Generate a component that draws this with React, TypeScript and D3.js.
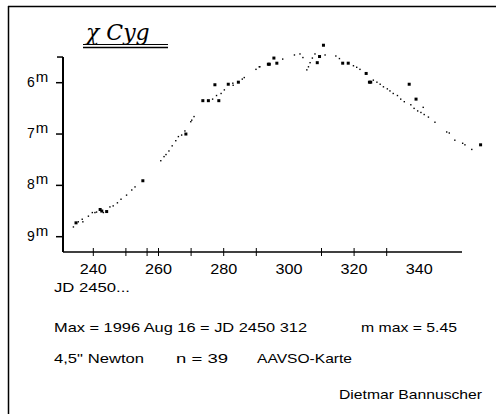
import React from "react";
import * as d3 from "d3";

// chi Cyg light curve, JD 2450xxx vs visual magnitude
const curveDays = [233.9, 235.4, 236.6, 236.8, 238.5, 239.7, 240.5, 241.0, 243.1, 245.1, 246.1, 247.4, 248.5, 250.2, 251.8, 252.8,
  260.7, 261.7, 262.3, 263.2, 264.2, 265.3, 266.1, 267.1, 268.1, 269.9, 270.2, 270.9, 276.6, 277.8, 279.2, 280.2, 282.8, 282.9, 285.7, 286.3, 289.9, 290.9,
  291.1, 298.1, 301.7, 303.4, 304.3, 305.5, 306.0, 306.5, 307.2, 308.0, 311.1, 314.4, 315.5, 319.8, 320.8, 321.8,
  325.9, 327.0, 328.0, 329.0, 330.2, 331.0, 332.0, 333.3, 334.3, 335.4, 337.4, 338.4, 339.5, 340.5, 341.2, 341.5, 342.8, 344.8, 348.4, 349.2, 350.9, 353.3, 354.0, 356.1];
const curveMags = [8.81, 8.71, 8.66, 8.71, 8.60, 8.53, 8.53, 8.52, 8.53, 8.42, 8.40, 8.34, 8.27, 8.19, 8.09, 8.03,
  7.52, 7.44, 7.40, 7.33, 7.23, 7.13, 7.05, 7.02, 6.94, 6.76, 6.73, 6.66, 6.32, 6.25, 6.21, 6.14, 6.01, 6.05, 5.93, 5.90, 5.74, 5.69,
  5.69, 5.54, 5.46, 5.44, 5.51, 5.75, 5.69, 5.61, 5.52, 5.44, 5.46, 5.48, 5.53, 5.67, 5.70, 5.74,
  5.95, 5.99, 6.03, 6.08, 6.12, 6.16, 6.21, 6.25, 6.32, 6.37, 6.43, 6.50, 6.55, 6.58, 6.48, 6.62, 6.67, 6.77, 6.96, 6.98, 7.12, 7.18, 7.21, 7.30];

const obsDays = [234.7, 242.1, 242.6, 244.1, 255.2, 268.4, 273.6, 275.3, 277.3, 278.5, 281.4, 284.5, 293.7, 294.0, 295.4, 296.3,
  308.7, 309.4, 310.6, 316.5, 318.2, 323.7, 324.7, 325.1, 336.9, 339.0, 358.8];
const obsMags = [8.73, 8.47, 8.50, 8.51, 7.91, 7.00, 6.35, 6.35, 6.04, 6.35, 6.03, 5.99, 5.64, 5.64, 5.52, 5.62,
  5.61, 5.49, 5.27, 5.62, 5.62, 5.82, 5.99, 5.99, 6.03, 6.32, 7.21];

const xTicks = [240, 250, 256.5, 260, 270, 280, 290, 310, 320, 330];
const xLabels = [240, 260, 280, 300, 320, 340];
const yTicks = [6, 7, 8, 9];

const infoLine1 = "Max = 1996 Aug 16 = JD 2450 312";
const infoMax = "m max = 5.45";
const infoLine2 = ["4,5\" Newton", "n = 39", "AAVSO-Karte"];
const author = "Dietmar Bannuscher";

const W = 496;
const H = 414;

export default function App() {
  const x = d3.scaleLinear().domain([240, 330]).range([93.3, 386.7]);
  const y = d3.scaleLinear().domain([6, 9]).range([82.7, 236.7]);
  const axisY = 252;
  const axisX = 63;
  const font = "'Liberation Sans', Arial, sans-serif";

  return (
    <svg width={W} height={H} style={{ position: "absolute", left: 0, top: 0, background: "#fff" }}>
      {/* frame */}
      <line x1={8.5} y1={6} x2={8.5} y2={H} stroke="#000" strokeWidth={1.5} />
      <line x1={8} y1={6.5} x2={W} y2={6.5} stroke="#000" strokeWidth={1.5} />

      {/* title */}
      <text x={86} y={40} fontFamily="'DejaVu Serif', serif" fontStyle="italic" fontSize={22} fill="#000">χ Cyg</text>
      <line x1={83} y1={44.5} x2={168} y2={44.5} stroke="#000" strokeWidth={1} />
      <line x1={83} y1={47.5} x2={168} y2={47.5} stroke="#000" strokeWidth={1.5} />

      {/* y axis */}
      <line x1={axisX} y1={y(5.5)} x2={axisX} y2={axisY} stroke="#000" strokeWidth={2} />
      <line x1={57} y1={y(5.5)} x2={axisX} y2={y(5.5)} stroke="#000" strokeWidth={1.5} />
      {yTicks.map((t) => (
        <g key={t}>
          <line x1={56} y1={y(t)} x2={axisX} y2={y(t)} stroke="#000" strokeWidth={1.5} />
          <text x={27} y={y(t) + 4} fontFamily={font} fontSize={14} fill="#000">
            {t}
            <tspan fontSize={15} dy={-5} dx={1}>m</tspan>
          </text>
        </g>
      ))}

      {/* x axis */}
      <line x1={axisX} y1={axisY} x2={462} y2={axisY} stroke="#000" strokeWidth={1.5} />
      {xTicks.map((t) => (
        <line key={t} x1={x(t)} y1={axisY - 4} x2={x(t)} y2={axisY + 4} stroke="#000" strokeWidth={1} />
      ))}
      {xLabels.map((t) => (
        <text key={t} x={x(t)} y={274} textAnchor="middle" fontFamily={font} fontSize={14}
          textLength={27} lengthAdjust="spacingAndGlyphs" fill="#000">{t}</text>
      ))}
      <text x={54} y={292} fontFamily={font} fontSize={13} textLength={76} lengthAdjust="spacingAndGlyphs" fill="#000">JD 2450...</text>

      {/* data */}
      {curveDays.map((d, i) => (
        <rect key={"c" + i} x={x(d) - 0.7} y={y(curveMags[i]) - 0.7} width={1.4} height={1.4} fill="#000" />
      ))}
      {obsDays.map((d, i) => (
        <rect key={"o" + i} x={x(d) - 1.5} y={y(obsMags[i]) - 1.5} width={3} height={3} fill="#000" />
      ))}

      {/* notes */}
      <text x={54} y={332} fontFamily={font} fontSize={13.5} textLength={253} lengthAdjust="spacingAndGlyphs" fill="#000">{infoLine1}</text>
      <text x={361} y={332} fontFamily={font} fontSize={13.5} textLength={96} lengthAdjust="spacingAndGlyphs" fill="#000">{infoMax}</text>
      <text x={54} y={363} fontFamily={font} fontSize={13.5} textLength={90} lengthAdjust="spacingAndGlyphs" fill="#000">{infoLine2[0]}</text>
      <text x={176} y={363} fontFamily={font} fontSize={13.5} textLength={52} lengthAdjust="spacingAndGlyphs" fill="#000">{infoLine2[1]}</text>
      <text x={257} y={363} fontFamily={font} fontSize={13.5} textLength={95} lengthAdjust="spacingAndGlyphs" fill="#000">{infoLine2[2]}</text>
      <text x={339} y={399} fontFamily={font} fontSize={13.5} textLength={143} lengthAdjust="spacingAndGlyphs" fill="#000">{author}</text>
    </svg>
  );
}
